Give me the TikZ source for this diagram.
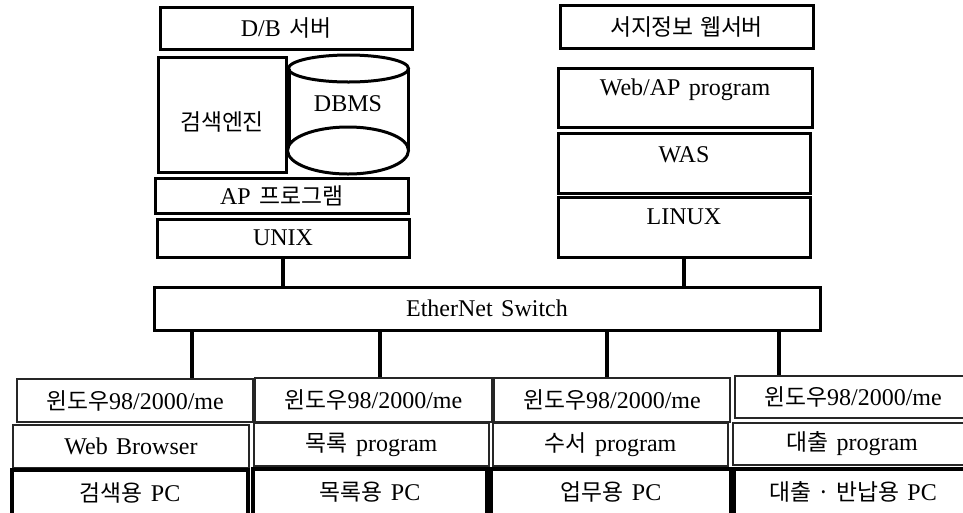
\documentclass[tikz,border=0pt]{standalone}
\usepackage{fontspec}
\setmainfont{Liberation Serif}[WordSpace=1.4]
\newfontfamily\kr{Noto Sans CJK KR}[Scale=0.95,WordSpace=1.2]
\begin{document}
\begin{tikzpicture}[x=1pt,y=-1pt,
  every node/.style={font=\fontsize{24}{28}\selectfont, inner sep=0pt},
  thickbox/.style={draw, line width=3pt, rectangle},
  thinbox/.style={draw, line width=1.3pt, rectangle, draw=black!85},
  pcbox/.style={draw, line width=3.4pt, rectangle},
  wire/.style={line width=4pt},
  cyl/.style={line width=3pt}]
\useasboundingbox (0,0) rectangle (963,512);
\clip (0,0) rectangle (963,512);
% D/B server stack
\node[thickbox, minimum width=252pt, minimum height=42pt] (db) at (286,28) {D/B {\kr 서버}};
\node[thickbox, minimum width=128pt, minimum height=115pt] (eng) at (222,114.5) {};
\node (engT) at (222,122) {\kr 검색엔진};
\draw[cyl, fill=white] (289,68.5) -- (289,150.5) (408,68.5) -- (408,150.5);
\draw[cyl] (348.5,68.5) ellipse [x radius=60pt, y radius=13.5pt];
\draw[cyl, fill=white] (348,150.5) ellipse [x radius=60.5pt, y radius=23.5pt];
\node (dbms) at (348,104) {DBMS};
\node[thickbox, minimum width=253pt, minimum height=35pt] (ap) at (281.5,195.5) {AP {\kr 프로그램}};
\node[thickbox, minimum width=252pt, minimum height=38pt] (unix) at (283,238) {UNIX};
% web server stack
\node[thickbox, minimum width=253pt, minimum height=43pt] (web) at (686.5,26.5) {\kr 서지정보 웹서버};
\node[thickbox, minimum width=254pt, minimum height=59pt] (webap) at (685,97.5) {};
\node (webapT) at (685,90) {Web/AP program};
\node[thickbox, minimum width=252pt, minimum height=60pt] (was) at (684,163) {};
\node (wasT) at (684,155) {WAS};
\node[thickbox, minimum width=252pt, minimum height=60pt] (linux) at (684,227) {};
\node (linuxT) at (684,217) {LINUX};
% switch
\node[thickbox, minimum width=666pt, minimum height=43pt] (sw) at (487,308.5) {EtherNet Switch};
% clients
\node[thinbox, minimum width=236pt, minimum height=43pt] (w1) at (135,400.5) {{\kr 윈도우}98/2000/me};
\node[thinbox, minimum width=236pt, minimum height=43pt] (p1) at (131,446.5) {Web Browser};
\node[pcbox, minimum width=236pt, minimum height=45pt] (pc1) at (130,492.5) {{\kr 검색용} PC};
\node[thinbox, minimum width=237pt, minimum height=44pt] (w2) at (373.5,400) {{\kr 윈도우}98/2000/me};
\node[thinbox, minimum width=235pt, minimum height=43pt] (p2) at (371.5,444.5) {{\kr 목록} program};
\node[pcbox, minimum width=234pt, minimum height=46pt] (pc2) at (370,492) {{\kr 목록용} PC};
\node[thinbox, minimum width=236pt, minimum height=44pt] (w3) at (612,400) {{\kr 윈도우}98/2000/me};
\node[thinbox, minimum width=235pt, minimum height=43pt] (p3) at (610.5,444.5) {{\kr 수서} program};
\node[pcbox, minimum width=240pt, minimum height=46pt] (pc3) at (611,492) {{\kr 업무용} PC};
\node[thinbox, minimum width=236pt, minimum height=42pt] (w4) at (853,397) {{\kr 윈도우}98/2000/me};
\node[thinbox, minimum width=238pt, minimum height=42pt] (p4) at (852,444) {{\kr 대출} program};
\node[pcbox, minimum width=238pt, minimum height=46pt] (pc4) at (853,492) {{\kr 대출 · 반납용} PC};
% wires
\draw[wire] (unix.south) -- (unix.south |- sw.north);
\draw[wire] (linux.south) -- (linux.south |- sw.north);
\draw[wire] (sw.south -| 192,0) -- (192,0 |- w1.north);
\draw[wire] (sw.south -| 380,0) -- (380,0 |- w2.north);
\draw[wire] (sw.south -| 607,0) -- (607,0 |- w3.north);
\draw[wire] (sw.south -| 779,0) -- (779,0 |- w4.north);
\end{tikzpicture}
\end{document}
